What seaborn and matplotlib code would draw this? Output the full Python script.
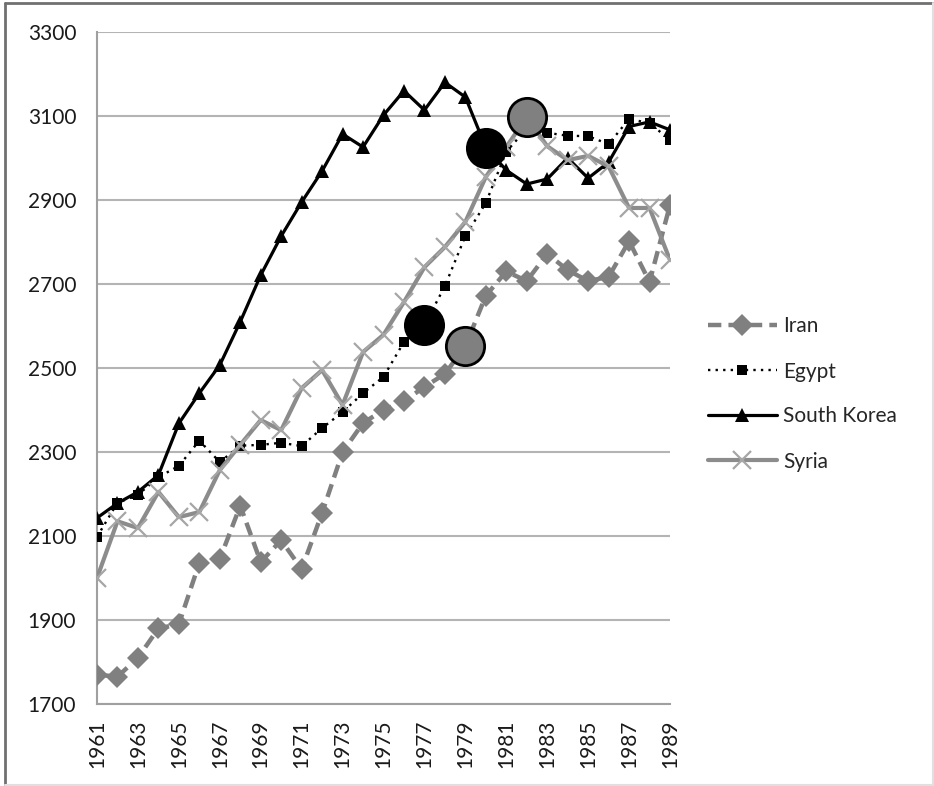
import matplotlib
matplotlib.use("Agg")
from matplotlib import pyplot as plt
from matplotlib.lines import Line2D
import seaborn as sns
import pandas as pd


years = list(range(1961, 1990))

iran = [1770, 1765, 1810, 1880, 1890, 2036, 2045, 2172, 2038, 2090,
        2021, 2155, 2300, 2369, 2400, 2421, 2455, 2486, 2552, 2672,
        2730, 2707, 2772, 2733, 2707, 2717, 2802, 2705, 2888]

egypt = [2098, 2179, 2198, 2240, 2267, 2327, 2276, 2315, 2317, 2322,
         2314, 2357, 2395, 2440, 2479, 2562, 2602, 2695, 2814, 2893,
         3015, 3070, 3060, 3053, 3052, 3033, 3093, 3083, 3043]

south_korea = [2143, 2178, 2205, 2245, 2368, 2440, 2507, 2610, 2721, 2814,
               2895, 2969, 3057, 3026, 3102, 3160, 3114, 3180, 3145, 3025,
               2971, 2938, 2950, 3000, 2952, 2990, 3075, 3086, 3067]

syria = [2000, 2135, 2119, 2205, 2145, 2157, 2257, 2317, 2376, 2352,
         2452, 2495, 2412, 2538, 2579, 2657, 2740, 2788, 2848, 2955,
         3026, 3098, 3028, 2995, 3005, 2980, 2881, 2881, 2757]

# highlighted points drawn as big circles
black_years = [1977, 1980]
black_values = [2602, 3025]
grey_years = [1979, 1982]
grey_values = [2552, 3098]

countries = ["Iran", "Egypt", "South Korea", "Syria"]
values = [iran, egypt, south_korea, syria]

styles = {
    "Iran": dict(color="#808080", lw=3.2, dashes=(3, 1.6), marker="D", ms=11,
                 mfc="#808080", mec="#808080", mew=0),
    "Egypt": dict(color="#000000", lw=1.7, dashes=(1, 2.2), marker="s", ms=7,
                  mfc="#000000", mec="#000000", mew=0),
    "South Korea": dict(color="#000000", lw=2.3, dashes=(None, None), marker="^",
                        ms=9.5, mfc="#000000", mec="#000000", mew=0),
    "Syria": dict(color="#8c8c8c", lw=3.0, dashes=(None, None), marker="x", ms=13,
                  mfc="#a6a6a6", mec="#a6a6a6", mew=1.6),
}

sns.set_theme(style="white")
plt.rcParams["font.family"] = ["Lato", "DejaVu Sans"]

fig = plt.figure(figsize=(9.34, 7.86), dpi=100)
ax = fig.add_axes([97 / 934, 1 - 704 / 786, 573 / 934, 672 / 786])

for i, (name, vals) in enumerate(zip(countries, values)):
    st = styles[name]
    df = pd.DataFrame({"year": years, "value": vals})
    sns.lineplot(data=df, x="year", y="value", ax=ax, color=st["color"],
                 linewidth=st["lw"], marker=st["marker"], markersize=st["ms"],
                 markerfacecolor=st["mfc"], markeredgecolor=st["mec"],
                 markeredgewidth=st["mew"], label=name, zorder=3 + i)
    line = ax.get_lines()[-1]
    if st["dashes"][0] is not None:
        line.set_dashes(st["dashes"])
        line.set_dash_capstyle("butt")

sns.scatterplot(x=black_years, y=black_values, ax=ax, s=760, color="#000000",
                edgecolor="#000000", linewidth=2, zorder=10, legend=False)
sns.scatterplot(x=grey_years, y=grey_values, ax=ax, s=760, color="#808080",
                edgecolor="#000000", linewidth=2, zorder=10, legend=False)

ax.set_xlim(1961, 1989)
ax.set_ylim(1700, 3300)
ax.set_yticks(range(1700, 3301, 200))
ax.set_xticks(range(1961, 1990, 2))
ax.set_xticks(years, minor=True)
ax.set_xticklabels([str(y) for y in range(1961, 1990, 2)], rotation=90)
ax.set_xlabel("")
ax.set_ylabel("")

ax.grid(axis="y", color="#b4b4b4", linewidth=1.5)
ax.grid(axis="x", visible=False)
ax.set_axisbelow(True)
for side in ["top", "right"]:
    ax.spines[side].set_visible(False)
for side in ["left", "bottom"]:
    ax.spines[side].set_color("#a0a0a0")
    ax.spines[side].set_linewidth(1.5)

ax.tick_params(axis="both", which="both", direction="out", color="#a0a0a0",
               width=1.2, length=5, labelsize=15, labelcolor="#1a1a1a")
ax.tick_params(axis="x", which="both", length=5, pad=6)
ax.tick_params(axis="y", pad=10)

ax.legend_.remove()
handles = []
for name in countries:
    st = styles[name]
    h = Line2D([], [], color=st["color"], lw=st["lw"], marker=st["marker"],
               ms=st["ms"], mfc=st["mfc"], mec=st["mec"], mew=st["mew"])
    if st["dashes"][0] is not None:
        h.set_dashes(st["dashes"])
    handles.append(h)
fig.legend(handles, countries, loc="center left",
           bbox_to_anchor=(708 / 934, 1 - 394 / 786), frameon=False,
           fontsize=15, handlelength=3.3, handletextpad=0.3,
           labelspacing=1.2, borderpad=0, borderaxespad=0)

# outer frame like the exported picture
fig.add_artist(Line2D([0.005, 0.005], [0, 0.996], transform=fig.transFigure,
                      color="#707070", lw=2))
fig.add_artist(Line2D([0.005, 1], [0.996, 0.996], transform=fig.transFigure,
                      color="#707070", lw=2))
fig.add_artist(Line2D([0.005, 1], [0.001, 0.001], transform=fig.transFigure,
                      color="#e0e0e0", lw=1.5))
fig.add_artist(Line2D([0.999, 0.999], [0, 0.996], transform=fig.transFigure,
                      color="#e0e0e0", lw=1.5))

fig.savefig("out.png", dpi=100)
